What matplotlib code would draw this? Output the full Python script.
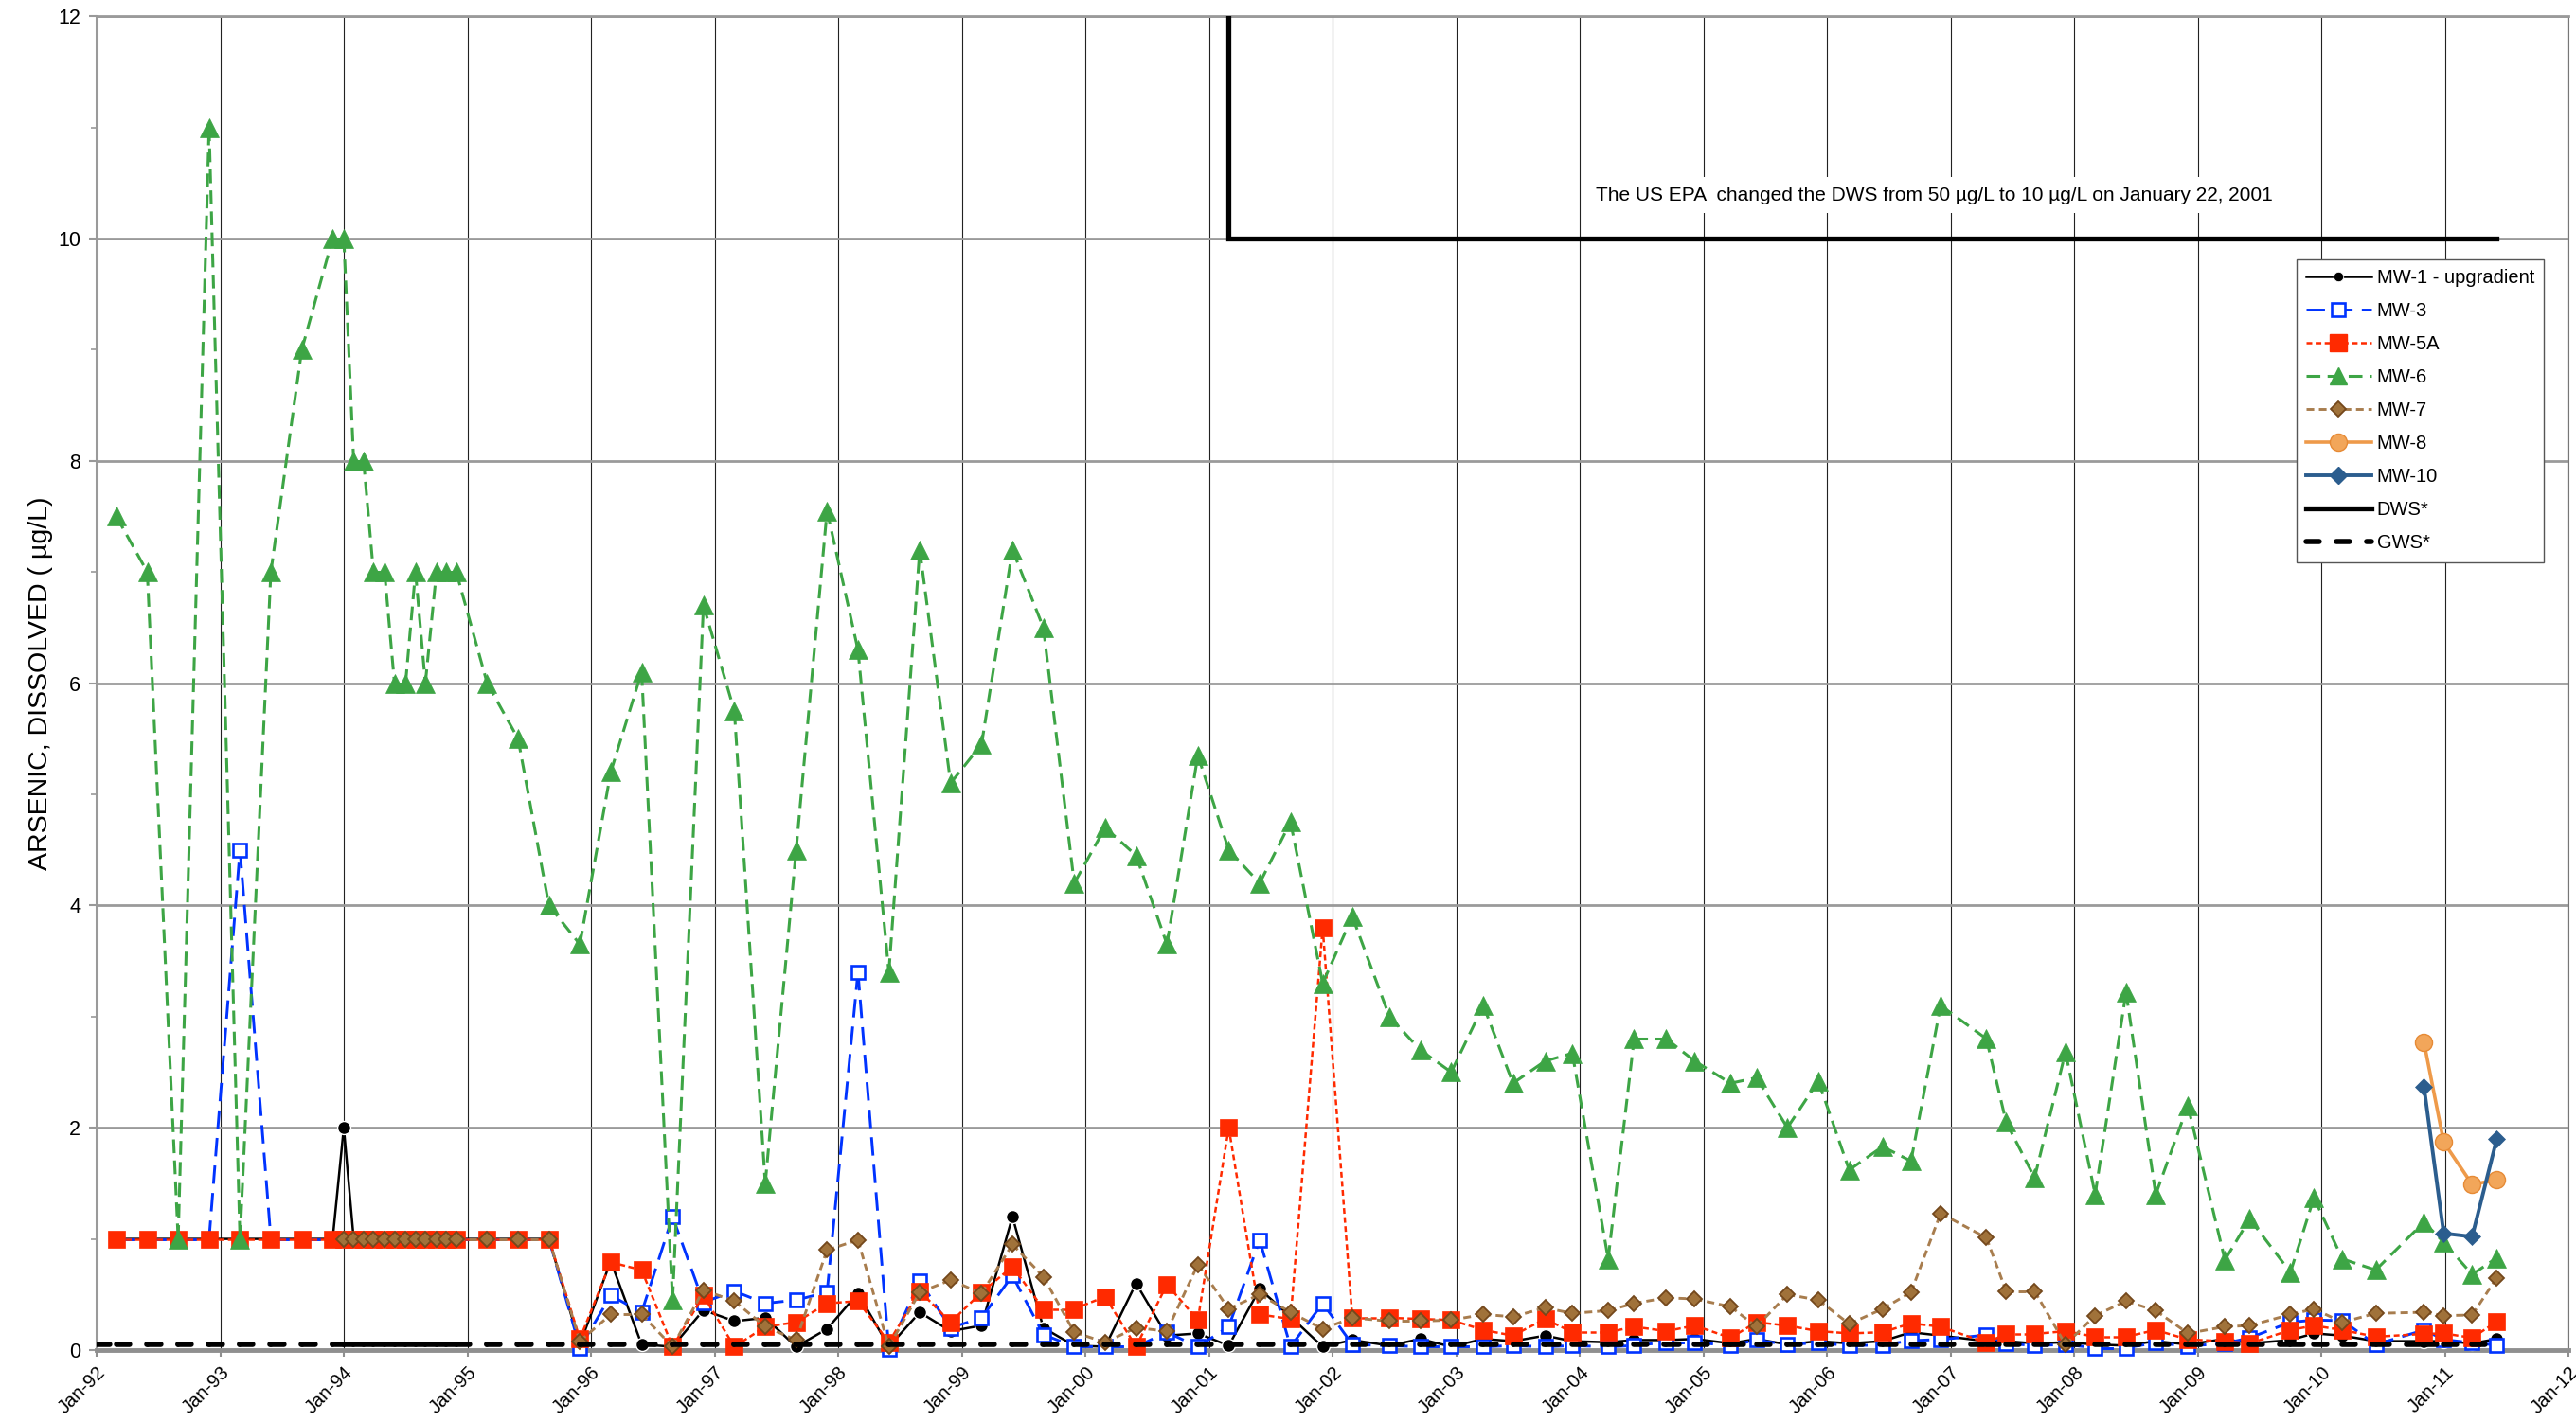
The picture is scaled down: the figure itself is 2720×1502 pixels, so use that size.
import numpy as np
import matplotlib
matplotlib.use('Agg')
import matplotlib.pyplot as plt
from matplotlib.collections import LineCollection
from matplotlib.lines import Line2D

plt.rcParams['font.family'] = ['Liberation Sans', 'DejaVu Sans']
plt.rcParams['lines.scale_dashes'] = False

nan = np.nan

# sampling dates (decimal years)
t_samples = [
    1992.16, 1992.41, 1992.66, 1992.91, 1993.16, 1993.41, 1993.66, 1993.91,
    1994.00, 1994.08, 1994.16, 1994.24, 1994.33, 1994.41, 1994.50, 1994.58,
    1994.66, 1994.75, 1994.83, 1994.91,
    1995.16, 1995.41, 1995.66, 1995.91,
    1996.16, 1996.41, 1996.66, 1996.91,
    1997.16, 1997.41, 1997.66, 1997.91,
    1998.16, 1998.41, 1998.66, 1998.91,
    1999.16, 1999.41, 1999.66, 1999.91,
    2000.16, 2000.41, 2000.66, 2000.91,
    2001.16, 2001.41, 2001.66, 2001.92,
    2002.16, 2002.46, 2002.71, 2002.96,
    2003.22, 2003.46, 2003.72, 2003.94,
    2004.23, 2004.44, 2004.70, 2004.93,
    2005.22, 2005.43, 2005.68, 2005.93,
    2006.18, 2006.45, 2006.68, 2006.92,
    2007.29, 2007.45, 2007.68, 2007.93,
    2008.17, 2008.42, 2008.66, 2008.92,
    2009.22, 2009.42, 2009.75, 2009.94,
    2010.17, 2010.44, 2010.83, 2010.99,
    2011.22, 2011.42]

mw1 = [1, 1, 1, 1, 1, 1, 1, 1,
       2.0, 1, 1, 1, 1, 1, 1, 1, 1, 1, 1, 1,
       1, 1, 1, 0.05,
       0.80, 0.05, 0.03, 0.36,
       0.26, 0.29, 0.03, 0.19,
       0.51, 0.03, 0.34, 0.17,
       0.22, 1.20, 0.20, 0.04,
       0.03, 0.60, 0.13, 0.15,
       0.04, 0.55, 0.30, 0.03,
       0.09, 0.04, 0.10, 0.03,
       0.10, 0.08, 0.13, 0.08,
       0.07, 0.09, 0.09, 0.10,
       0.06, 0.10, 0.05, 0.08,
       0.06, 0.08, 0.16, 0.13,
       0.08, 0.08, 0.06, 0.07,
       0.05, 0.04, 0.08, 0.05,
       0.10, 0.06, 0.09, 0.15,
       0.13, 0.08, 0.08, 0.08,
       0.06, 0.10]

mw3 = [1, 1, 1, 1, 4.5, 1, 1, 1,
       1, 1, 1, 1, 1, 1, 1, 1, 1, 1, 1, 1,
       1, 1, 1, 0.02,
       0.49, 0.34, 1.20, 0.43,
       0.53, 0.42, 0.45, 0.52,
       3.40, 0.01, 0.62, 0.20,
       0.29, 0.67, 0.14, 0.03,
       0.03, 0.03, 0.16, 0.03,
       0.21, 0.99, 0.03, 0.42,
       0.05, 0.04, 0.03, 0.03,
       0.03, 0.04, 0.03, 0.04,
       0.03, 0.04, 0.07, 0.07,
       0.04, 0.09, 0.05, 0.065,
       0.04, 0.045, 0.085, 0.095,
       0.135, 0.06, 0.04, 0.05,
       0.02, 0.02, 0.065, 0.035,
       0.06, 0.11, 0.25, 0.27,
       0.265, 0.05, 0.18, 0.095,
       0.065, 0.045]

mw5a = [1, 1, 1, 1, 1, 1, 1, 1,
        1, 1, 1, 1, 1, 1, 1, 1, 1, 1, 1, 1,
        1, 1, 1, 0.10,
        0.79, 0.72, 0.03, 0.49,
        0.03, 0.21, 0.25, 0.42,
        0.44, 0.07, 0.53, 0.25,
        0.52, 0.75, 0.37, 0.37,
        0.48, 0.03, 0.59, 0.27,
        2.00, 0.32, 0.28, 3.80,
        0.29, 0.29, 0.28, 0.27,
        0.18, 0.13, 0.28, 0.16,
        0.16, 0.21, 0.17, 0.22,
        0.11, 0.25, 0.22, 0.17,
        0.15, 0.16, 0.24, 0.21,
        0.065, 0.145, 0.145, 0.17,
        0.12, 0.12, 0.18, 0.095,
        0.08, 0.06, 0.18, 0.22,
        0.18, 0.12, 0.145, 0.15,
        0.11, 0.255]

mw6 = [7.5, 7.0, 1.0, 11.0, 1.0, 7.0, 9.0, 10.0,
       10.0, 8.0, 8.0, 7.0, 7.0, 6.0, 6.0, 7.0, 6.0, 7.0, 7.0, 7.0,
       6.0, 5.5, 4.0, 3.65,
       5.2, 6.1, 0.45, 6.7,
       5.75, 1.5, 4.5, 7.55,
       6.3, 3.4, 7.2, 5.1,
       5.45, 7.2, 6.5, 4.2,
       4.7, 4.45, 3.65, 5.35,
       4.5, 4.2, 4.75, 3.3,
       3.9, 3.0, 2.7, 2.5,
       3.1, 2.4, 2.6, 2.67,
       0.82, 2.8, 2.8, 2.6,
       2.4, 2.45, 2.0, 2.42,
       1.62, 1.83, 1.7, 3.1,
       2.8, 2.05, 1.55, 2.68,
       1.4, 3.22, 1.4, 2.2,
       0.81, 1.18, 0.7, 1.37,
       0.82, 0.72, 1.15, 0.97,
       0.68, 0.83]

mw7 = [nan, nan, nan, nan, nan, nan, nan, nan,
       1, 1, 1, 1, 1, 1, 1, 1, 1, 1, 1, 1,
       1, 1, 1, 0.08,
       0.32, 0.32, 0.03, 0.54,
       0.44, 0.21, 0.09, 0.90,
       0.99, 0.03, 0.52, 0.63,
       0.51, 0.95, 0.66, 0.16,
       0.07, 0.20, 0.17, 0.77,
       0.37, 0.50, 0.34, 0.19,
       0.29, 0.26, 0.26, 0.27,
       0.32, 0.30, 0.38, 0.33,
       0.355, 0.42, 0.47, 0.46,
       0.39, 0.21, 0.50, 0.45,
       0.235, 0.37, 0.52, 1.23,
       1.01, 0.53, 0.53, 0.05,
       0.31, 0.44, 0.355, 0.15,
       0.21, 0.22, 0.32, 0.37,
       0.25, 0.33, 0.34, 0.31,
       0.315, 0.65]

# newer wells
t_new = [2010.83, 2010.99, 2011.22, 2011.42]
mw8 = [2.77, 1.87, 1.49, 1.53]
mw10 = [2.37, 1.05, 1.02, 1.90]

# standards
gws_dates = [1992.0] + t_samples
gws_level = 0.05
dws_dates = [1992.0, 2001.16, 2001.16, 2011.42]
dws_values = [50, 50, 10, 10]

tick_years = list(range(1992, 2013))
tick_labels = [f'Jan-{y % 100:02d}' for y in tick_years]

note = 'The US EPA  changed the DWS from 50 \u00b5g/L to 10 \u00b5g/L on January 22, 2001'
note_x, note_y = 2006.87, 10.39

# colours
c_mw3 = '#0033FF'
c_mw5a = '#FF2A00'
c_mw6 = '#3DA545'
c_mw7_line, c_mw7_face, c_mw7_edge = '#A87D4E', '#A0723A', '#74481C'
c_mw8_line, c_mw8_face, c_mw8_edge = '#EE9A4A', '#F2A65A', '#E68A35'
c_mw10 = '#2B5D8E'


def dashed(ax, x, y, color, lw, dash, z, cap='butt'):
    # Excel restarts the dash pattern at every vertex -> one segment each
    x = np.asarray(x, float)
    y = np.asarray(y, float)
    ok = ~np.isnan(y)
    pts = np.column_stack([x[ok], y[ok]])
    segs = np.stack([pts[:-1], pts[1:]], axis=1)
    lc = LineCollection(segs, colors=color, linewidths=lw,
                        linestyles=[(0, dash)], capstyle=cap, zorder=z)
    ax.add_collection(lc)


fig = plt.figure(figsize=(27.2, 15.02), dpi=100)
fig.patch.set_facecolor('white')
ax = fig.add_axes([0.0375, 0.0506, 0.9596, 0.938])

# MW-1
ax.plot(t_samples, mw1, '-', color='black', lw=1.8, marker='o', ms=10,
        mfc='black', mec='white', mew=1.0, zorder=3, clip_on=False)
# MW-3
dashed(ax, t_samples, mw3, c_mw3, 2.1, (14, 7), 4)
ax.plot(t_samples, mw3, ls='none', marker='s', ms=10.5, mfc='white',
        mec=c_mw3, mew=1.9, zorder=4.5, clip_on=False)
# MW-5A
dashed(ax, t_samples, mw5a, c_mw5a, 1.8, (4.3, 2.6), 5)
ax.plot(t_samples, mw5a, ls='none', marker='s', ms=12.5, mfc=c_mw5a,
        mec=c_mw5a, mew=0.5, zorder=5.5, clip_on=False)
# MW-6
dashed(ax, t_samples, mw6, c_mw6, 2.2, (10.5, 5.5), 6)
ax.plot(t_samples, mw6, ls='none', marker='^', ms=14, mfc=c_mw6,
        mec=c_mw6, mew=0.5, zorder=6.5, clip_on=False)
# MW-7
dashed(ax, t_samples, mw7, c_mw7_line, 2.1, (5.8, 3.6), 7)
ax.plot(t_samples, mw7, ls='none', marker='D', ms=8, mfc=c_mw7_face,
        mec=c_mw7_edge, mew=1.3, zorder=7.5, clip_on=False)
# MW-8
ax.plot(t_new, mw8, '-', color=c_mw8_line, lw=2.6, marker='o', ms=13,
        mfc=c_mw8_face, mec=c_mw8_edge, mew=1.0, zorder=8)
# MW-10
ax.plot(t_new, mw10, '-', color=c_mw10, lw=2.8, marker='D', ms=9,
        mfc=c_mw10, mec=c_mw10, mew=0.5, zorder=9)
# DWS
ax.plot(dws_dates, dws_values, '-', color='black', lw=3.8,
        solid_joinstyle='miter', zorder=10)
# GWS
dashed(ax, gws_dates, [gws_level] * len(gws_dates), 'black', 4.0,
       (10, 13), 11, cap='round')

ax.text(note_x, note_y, note, ha='center', va='center', fontsize=15,
        zorder=12, bbox=dict(facecolor='white', edgecolor='none', pad=7))

ax.set_xlim(1992, 2012)
ax.set_ylim(0, 12)

ax.set_axisbelow(True)
ax.xaxis.grid(True, color='#222222', lw=0.8)
ax.yaxis.grid(True, which='major', color='#9a9a9a', lw=2.0)

ax.set_xticks(tick_years)
ax.set_xticklabels(tick_labels, rotation=45, ha='right', va='top',
                   rotation_mode='anchor', fontsize=14.5)
ax.set_yticks(np.arange(0, 13, 2))
ax.set_yticks(np.arange(1, 12, 2), minor=True)
ax.tick_params(axis='x', direction='out', length=5, width=1.5,
               color='#8f8f8f', pad=5)
ax.tick_params(axis='y', which='major', direction='out', length=6,
               width=1.5, color='#999999', labelsize=15.5, pad=6)
ax.tick_params(axis='y', which='minor', direction='out', length=4,
               width=1.2, color='#999999')

for side, col, lw in [('left', '#9a9a9a', 2.2), ('bottom', '#8f8f8f', 3.5),
                      ('top', '#9a9a9a', 2.0), ('right', '#777777', 0.8)]:
    ax.spines[side].set_color(col)
    ax.spines[side].set_linewidth(lw)

ax.set_ylabel('ARSENIC, DISSOLVED ( \u00b5g/L)', fontsize=20.5)
ax.yaxis.set_label_coords(-0.0176, 0.5)

handles = [
    Line2D([], [], color='black', lw=1.8, marker='o', ms=7.5, mfc='black',
           mec='white', mew=0.6),
    Line2D([], [], color=c_mw3, lw=2.1, ls=(0, (14, 7)), marker='s', ms=10.5,
           mfc='white', mec=c_mw3, mew=1.9),
    Line2D([], [], color=c_mw5a, lw=1.8, ls=(0, (4.3, 2.6)), marker='s',
           ms=12.5, mfc=c_mw5a, mec=c_mw5a),
    Line2D([], [], color=c_mw6, lw=2.2, ls=(0, (10.5, 5.5)), marker='^',
           ms=13, mfc=c_mw6, mec=c_mw6),
    Line2D([], [], color=c_mw7_line, lw=2.1, ls=(0, (5.8, 3.6)), marker='D',
           ms=8, mfc=c_mw7_face, mec=c_mw7_edge, mew=1.3),
    Line2D([], [], color=c_mw8_line, lw=2.6, marker='o', ms=13,
           mfc=c_mw8_face, mec=c_mw8_edge),
    Line2D([], [], color=c_mw10, lw=2.8, marker='D', ms=9, mfc=c_mw10,
           mec=c_mw10),
    Line2D([], [], color='black', lw=3.8),
    Line2D([], [], color='black', lw=4.0, ls=(0, (10, 13)),
           solid_capstyle='round', dash_capstyle='round'),
]
labels = ['MW-1 - upgradient', 'MW-3', 'MW-5A', 'MW-6', 'MW-7', 'MW-8',
          'MW-10', 'DWS*', 'GWS*']
leg = ax.legend(handles, labels, loc='upper right',
                bbox_to_anchor=(0.990, 0.818), borderaxespad=0,
                fontsize=14.5, numpoints=1, handlelength=3.4,
                handletextpad=0.3, labelspacing=0.8, borderpad=0.5,
                fancybox=False, framealpha=1, edgecolor='#555555')
leg.get_frame().set_linewidth(1.0)
leg.set_zorder(20)

fig.savefig('out.png', dpi=100)
